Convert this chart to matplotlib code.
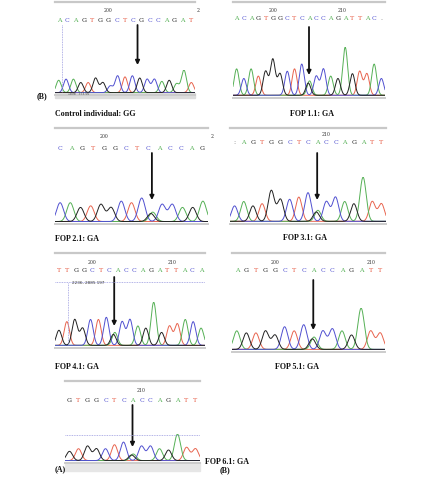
import numpy as np
import matplotlib.pyplot as plt

W, H = 422, 480
BASE_COLORS = {"A": "#55b055", "C": "#5050d0", "G": "#222222", "T": "#e8644e"}

# ---- data ----
labels = ["Control individual: GG", "FOP 1.1: GA", "FOP 2.1: GA", "FOP 3.1: GA",
          "FOP 4.1: GA", "FOP 5.1: GA", "FOP 6.1: GA"]

seq_ctrl = "ACAGTGGCTCGCCAGAT"
seq_11 = "ACAGTGGCTCACCAGATTAC."
seq_21 = "CAGTGGCTCACCAG"
seq_31 = ":AGTGGCTCACCAGATT"
seq_41 = "TTGGCTCACCAGATTACA"
seq_51 = "AGTGGCTCACCAGATT"
seq_61 = "GTGGCTCACCAGATT"

ticks_ctrl = [(6, "200"), (16.9, "2")]
ticks_11 = [(5, "200"), (14.6, "210")]
ticks_21 = [(4, "200"), (13.9, "2")]
ticks_31 = [(10, "210")]
ticks_41 = [(4, "200"), (13.5, "210")]
ticks_51 = [(4, "200"), (14, "210")]
ticks_61 = [(8, "210")]

peaks_ctrl = "ACAGTGGCCTCGCCAGAAT"
heights_ctrl = [0.55, 0.6, 0.6, 0.45, 0.45, 0.65, 0.45, 0.3, 0.75, 0.7, 0.75,
                0.65, 0.6, 0.6, 0.5, 0.55, 0.4, 1.0, 0.45]
peaks_11 = "ACATGGGCTCNCCAGAGTTAC"
heights_11 = [0.55, 0.35, 0.55, 0.4, 0.5, 0.75, 0.45, 0.5, 0.55, 0.65, 0.3,
              0.4, 0.55, 0.4, 0.35, 1.0, 0.45, 0.5, 0.45, 0.65, 0.35]
peaks_21 = "CAGTGGCTCNCCAGA"
heights_21 = [0.6, 0.6, 0.45, 0.5, 0.55, 0.45, 0.65, 0.6, 0.75, 0.3, 0.55,
              0.55, 0.45, 0.45, 0.65]
peaks_31 = "CAGTGGCTCNCCAGATT"
heights_31 = [0.35, 0.45, 0.35, 0.4, 0.7, 0.5, 0.5, 0.55, 0.65, 0.25, 0.45,
              0.55, 0.45, 0.4, 1.0, 0.45, 0.4]
peaks_41 = "GTGGCTCNCCAGAGTTACA"
heights_41 = [0.35, 0.55, 0.6, 0.4, 0.6, 0.6, 0.65, 0.3, 0.55, 0.6, 0.45,
              0.4, 1.0, 0.3, 0.45, 0.5, 0.6, 0.55, 0.4]
peaks_51 = "AGTGGCTCNCCAGATT"
heights_51 = [0.45, 0.4, 0.4, 0.45, 0.35, 0.55, 0.45, 0.6, 0.3, 0.45, 0.5,
              0.45, 0.35, 1.0, 0.45, 0.4]
peaks_61 = "GTGGCTCNCCAGATT"
heights_61 = [0.35, 0.45, 0.55, 0.45, 0.45, 0.6, 0.7, 0.25, 0.55, 0.55,
              0.45, 0.4, 1.0, 0.5, 0.45]

# ---- layout (pixels, y from top) ----
# x0, x1, y_line, y_num, y_seq, trace_top, trace_bot, arrow_tail, arrow_tip, label_x, label_y, label_ha
layout = [
    (55, 195, 2, 11, 20, 70, 93, 25, 65, 55, 114, "left"),
    (233, 385, 2, 10, 19, 47, 96, 27, 75, 312, 114, "center"),
    (55, 208, 128, 137, 148, 190, 222, 153, 200, 55, 239, "left"),
    (230, 386, 128, 135, 143, 177, 222, 153, 200, 305, 238, "center"),
    (55, 205, 253, 262, 270, 302, 346, 277, 326, 55, 367, "left"),
    (232, 385, 253, 263, 271, 308, 350, 280, 330, 297, 367, "center"),
    (65, 200, 381, 391, 400, 434, 461, 405, 447, 205, 462, "left"),
]

seqs = [seq_ctrl, seq_11, seq_21, seq_31, seq_41, seq_51, seq_61]
ticks = [ticks_ctrl, ticks_11, ticks_21, ticks_31, ticks_41, ticks_51, ticks_61]
peaks = [peaks_ctrl, peaks_11, peaks_21, peaks_31, peaks_41, peaks_51, peaks_61]
heights = [heights_ctrl, heights_11, heights_21, heights_31, heights_41,
           heights_51, heights_61]


def fx(x):
    return x / W


def fy(y):
    return 1 - y / H


fig = plt.figure(figsize=(W / 100, H / 100), dpi=100)


def draw_panel(k):
    x0, x1, yl, yn, ys, tt, tb, a0, a1, lx, ly, lha = layout[k]
    seq, tk, pk, hs = seqs[k], ticks[k], peaks[k], heights[k]

    # grey top rule
    fig.add_artist(plt.Line2D([fx(x0), fx(x1)], [fy(yl), fy(yl)],
                              color="#c8c8c8", lw=1.6))
    # called bases
    step = (x1 - x0) / len(seq)
    for i, b in enumerate(seq):
        fig.text(fx(x0 + (i + 0.5) * step), fy(ys), b, ha="center", va="center",
                 fontsize=4.5, family="DejaVu Serif",
                 color=BASE_COLORS.get(b, "#555555"))
    for i, t in tk:
        fig.text(fx(x0 + (i + 0.5) * step), fy(yn), t, ha="center", va="center",
                 fontsize=3.3, family="DejaVu Serif", color="#333333")

    # trace
    ax = fig.add_axes([fx(x0), fy(tb), fx(x1 - x0), (tb - tt) / H])
    n = len(pk)
    xs = np.linspace(-0.5, n - 0.5, 800)
    sig = 0.34
    curves = {b: np.zeros_like(xs) for b in "ACGT"}
    for i, (b, h) in enumerate(zip(pk, hs)):
        if b == "N":  # heterozygous G/A position: two overlapping small peaks
            curves["A"] += h * np.exp(-(xs - i - 0.08) ** 2 / (2 * sig ** 2))
            curves["G"] += h * 0.85 * np.exp(-(xs - i + 0.1) ** 2 / (2 * sig ** 2))
        else:
            curves[b] += h * np.exp(-(xs - i) ** 2 / (2 * sig ** 2))
    for b in "TACG":
        ax.plot(xs, curves[b] + 0.015, color=BASE_COLORS[b], lw=0.7)
    ax.set_xlim(-0.5, n - 0.5)
    ax.set_ylim(0, 1.02)
    ax.axis("off")

    # grey strip under the trace
    fig.add_artist(plt.Line2D([fx(x0), fx(x1)], [fy(tb + 1.5), fy(tb + 1.5)],
                              color="#cccccc", lw=1.4))

    # arrow at the variant position
    idx = pk.index("N") if "N" in pk else 10.7
    ax.annotate("", xy=(idx, H - a1), xytext=(idx, H - a0),
                xycoords=("data", "figure pixels"),
                textcoords=("data", "figure pixels"),
                arrowprops=dict(arrowstyle="-|>", color="#111111", lw=1.3,
                                mutation_scale=6, shrinkA=0, shrinkB=0),
                annotation_clip=False)

    fig.text(fx(lx), fy(ly), labels[k], ha=lha, va="center", fontsize=5.8,
             family="Liberation Serif", weight="bold", color="#111111")
    return ax


for k in range(len(layout)):
    draw_panel(k)

# extra details of the screenshots
dot = dict(color="#9a9ae0", lw=0.6, ls=(0, (1, 1)))
fig.add_artist(plt.Line2D([fx(62), fx(62)], [fy(25), fy(92)], **dot))
fig.add_artist(plt.Line2D([fx(55), fx(205)], [fy(282), fy(282)], **dot))
fig.add_artist(plt.Line2D([fx(68), fx(68)], [fy(283), fy(345)], **dot))
fig.add_artist(plt.Line2D([fx(65), fx(200)], [fy(435), fy(435)], **dot))
fig.add_artist(plt.Rectangle((fx(55), fy(98)), fx(140), 5 / H,
                             color="#dddddd", zorder=0))
fig.add_artist(plt.Rectangle((fx(65), fy(471)), fx(135), 9 / H,
                             color="#e6e6e6", zorder=0))
fig.text(fx(68), fy(94), "1898   373.56", fontsize=2.2, color="#444444", va="center")
fig.text(fx(72), fy(283), "2236, 2885 197", fontsize=3, color="#333333", va="center")

serif_b = dict(family="Liberation Serif", weight="bold", fontsize=5.8, color="#111111")
fig.text(fx(37), fy(96), "(B)", va="center", **serif_b)
fig.text(fx(55), fy(469), "(A)", va="center", **serif_b)
fig.text(fx(220), fy(470), "(B)", va="center", **serif_b)

fig.savefig("out.png", dpi=100)
